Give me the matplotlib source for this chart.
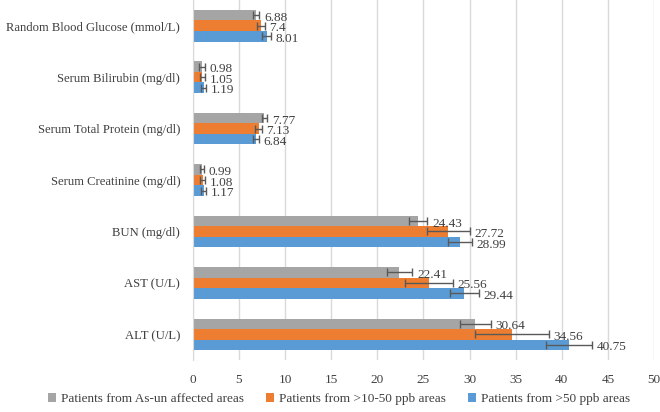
import numpy as np
import matplotlib.pyplot as plt

plt.rcParams['font.family'] = ['Liberation Serif', 'DejaVu Serif']

categories = ['Random Blood Glucose (mmol/L)', 'Serum Bilirubin (mg/dl)',
              'Serum Total Protein (mg/dl)', 'Serum Creatinine (mg/dl)',
              'BUN (mg/dl)', 'AST (U/L)', 'ALT (U/L)']
series_names = ['Patients from As-un affected areas',
                'Patients from >10-50 ppb areas',
                'Patients from >50 ppb areas']
unaffected = [6.88, 0.98, 7.77, 0.99, 24.43, 22.41, 30.64]
mid_ppb = [7.4, 1.05, 7.13, 1.08, 27.72, 25.56, 34.56]
high_ppb = [8.01, 1.19, 6.84, 1.17, 28.99, 29.44, 40.75]
unaffected_err = [0.35, 0.3, 0.3, 0.25, 1.0, 1.4, 1.7]
mid_err = [0.4, 0.3, 0.35, 0.3, 2.3, 2.6, 4.0]
high_err = [0.5, 0.3, 0.3, 0.3, 1.3, 1.6, 2.5]

colors = ['#A5A5A5', '#ED7D31', '#5B9BD5']

fig, ax = plt.subplots(figsize=(6.6, 4.12), dpi=100)
fig.subplots_adjust(left=0.292, right=0.991, top=1.0, bottom=0.126)

y = np.arange(len(categories))[::-1]
h = 0.205
for k, (vals, errs) in enumerate([(unaffected, unaffected_err),
                                   (mid_ppb, mid_err),
                                   (high_ppb, high_err)]):
    pos = y + (1 - k) * h
    ax.barh(pos, vals, height=h, color=colors[k], label=series_names[k], zorder=2)
    ax.errorbar(vals, pos, xerr=errs, fmt='none', ecolor='#595959',
                elinewidth=1, capsize=3, capthick=1, zorder=3)
    for v, e, p in zip(vals, errs, pos):
        ax.text(v + e + 0.5, p - 0.05, f'{v:g}', va='center', ha='left',
                fontsize=9.5, color='#404040')

ax.set_xlim(0, 50)
ax.set_xticks(range(0, 51, 5))
ax.set_ylim(-0.5, len(categories) - 0.5)
ax.set_yticks(y)
ax.set_yticklabels(categories)
ax.tick_params(axis='both', length=0, labelsize=9.5, colors='#404040')
ax.tick_params(axis='x', pad=10)
ax.tick_params(axis='y', labelsize=9.1, pad=9)
ax.grid(axis='x', color='#D9D9D9', linewidth=1, zorder=0)
for s in ['top', 'right', 'bottom']:
    ax.spines[s].set_visible(False)
ax.spines['left'].set_color('#D9D9D9')

handles, labels = ax.get_legend_handles_labels()
fig.legend(handles, labels, loc='lower left', ncol=3, frameon=False,
           bbox_to_anchor=(0.055, -0.012), fontsize=9.5, handlelength=0.6,
           handleheight=0.6, handletextpad=0.35, columnspacing=1.7,
           labelcolor='#404040')

fig.savefig('out.png', dpi=100)
